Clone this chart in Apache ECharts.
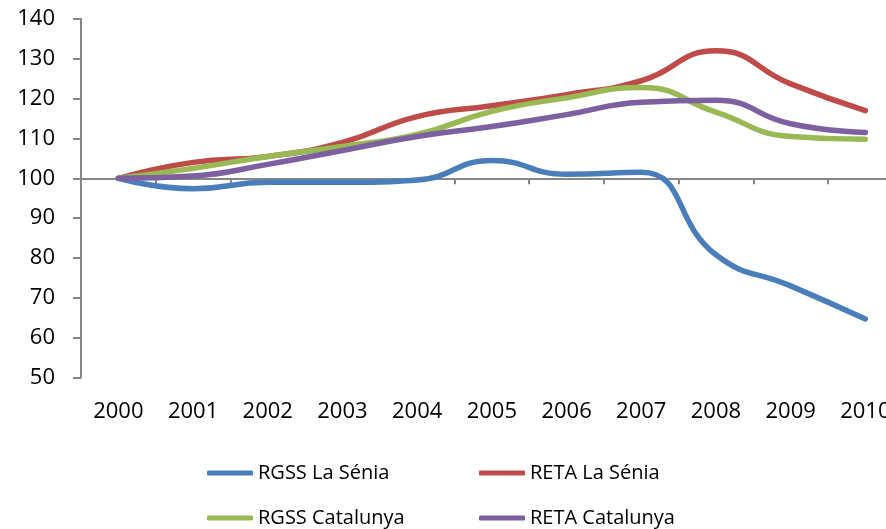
<!DOCTYPE html>
<html>
<head>
<meta charset="utf-8">
<script src="https://cdn.jsdelivr.net/npm/echarts@6/dist/echarts.min.js"></script>
<style>
  html, body { margin: 0; padding: 0; background: #fff; }
  #chart { width: 886px; height: 529px; }
</style>
</head>
<body>
<div id="chart"></div>
<script>
var years = ['2000', '2001', '2002', '2003', '2004', '2005', '2006', '2007', '2008', '2009', '2010'];
var rgssSenia = [100, 97.4, 99, 99, 99.6, 104.5, 101, 101.5, 80.8, 73, 64.7];
var retaSenia = [100, 104, 105.5, 109, 115.5, 118.2, 121, 124.5, 132, 123.7, 117];
var rgssCat = [100, 102.5, 105.5, 108, 111, 116.8, 120.2, 122.8, 116.6, 110.5, 109.8];
var retaCat = [100, 100.6, 103.5, 107, 110.5, 113, 116, 119.1, 119.6, 113.7, 111.5];
var names = ['RGSS La Sénia', 'RETA La Sénia', 'RGSS Catalunya', 'RETA Catalunya'];
var colors = ['#4a7ebb', '#be4b48', '#98b954', '#7d60a0'];

var yMin = 50, yMax = 140, crossAt = 100;
var gridTop = 19, gridHeight = 358.5;
var fontFam = '"Open Sans", "Noto Sans", sans-serif';

var chart = echarts.init(document.getElementById('chart'));

function legendAt(name, left, top) {
	return {
		data: [name],
		left: left,
		top: top,
		icon: 'roundRect',
		itemWidth: 46,
		itemHeight: 5,
		itemGap: 0,
		padding: 0,
		selectedMode: false,
		textStyle: { fontFamily: fontFam, fontSize: 20, color: '#000' }
	};
}

function lineSeries(i, data) {
	return {
		name: names[i],
		type: 'line',
		data: data,
		smooth: 0.5,
		symbol: 'none',
		clip: false,
		lineStyle: { width: 5.5, color: colors[i], cap: 'round' },
		itemStyle: { color: colors[i] }
	};
}

var option = {
	animation: false,
	backgroundColor: '#fff',
	legend: [
		legendAt(names[0], 207, 463),
		legendAt(names[1], 479, 463),
		legendAt(names[2], 207, 508),
		legendAt(names[3], 479, 508)
	],
	grid: { left: 81, top: gridTop, height: gridHeight, width: 821.7, outerBoundsMode: 'none', containLabel: false },
	xAxis: [
		{
			type: 'category',
			data: years,
			boundaryGap: true,
			axisLine: { show: false },
			axisTick: { show: false },
			axisLabel: { margin: 23, color: '#000', fontFamily: fontFam, fontSize: 22 },
			splitLine: { show: false }
		},
		{
			type: 'category',
			data: years,
			boundaryGap: true,
			position: 'bottom',
			// axis crosses the value axis at 100
			offset: -gridHeight * (crossAt - yMin) / (yMax - yMin),
			axisLine: { show: true, lineStyle: { color: '#868686', width: 2 } },
			axisTick: { show: true, length: 6, lineStyle: { color: '#868686', width: 2 } },
			axisLabel: { show: false },
			splitLine: { show: false }
		}
	],
	yAxis: {
		type: 'value',
		min: yMin,
		max: yMax,
		interval: 10,
		axisLine: { show: true, lineStyle: { color: '#868686', width: 2 } },
		axisTick: { show: true, length: 8, lineStyle: { color: '#868686', width: 2 } },
		axisLabel: { margin: 26, color: '#000', fontFamily: fontFam, fontSize: 22 },
		splitLine: { show: false }
	},
	series: [
		lineSeries(0, rgssSenia),
		lineSeries(1, retaSenia),
		lineSeries(2, rgssCat),
		lineSeries(3, retaCat)
	]
};

chart.setOption(option);
</script>
</body>
</html>
